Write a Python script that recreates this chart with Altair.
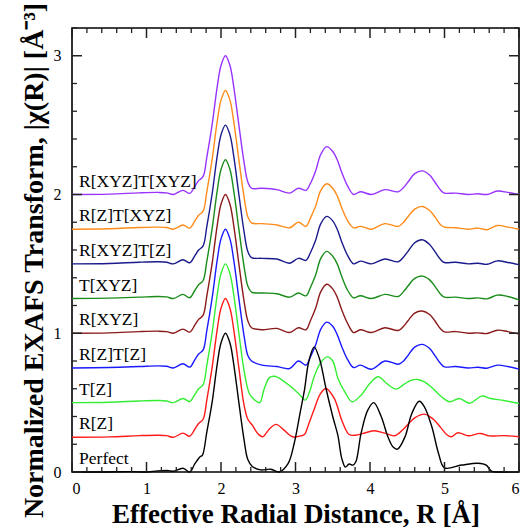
import altair as alt
import pandas as pd

# ---------------- data ----------------
series_names = ["R[XYZ]T[XYZ]", "R[Z]T[XYZ]", "R[XYZ]T[Z]", "T[XYZ]", "R[XYZ]",
                "R[Z]T[Z]", "T[Z]", "R[Z]", "Perfect"]
series_colors = ["#9933ff", "#ff8c1a", "#1a1a8c", "#1a8c1a", "#8b1a1a",
                 "#1a1aff", "#33ee33", "#ff1a1a", "#000000"]
label_baselines = [2.0, 1.75, 1.5, 1.25, 1.0, 0.75, 0.5, 0.25, 0.0]
label_r = 0.095

r_common = [0, 0.5, 0.9, 1.15, 1.27, 1.36, 1.49, 1.58, 1.65, 1.7, 1.76, 1.81, 1.88, 1.95, 2.0,
            2.06, 2.12, 2.17, 2.24, 2.31, 2.36, 2.41, 2.55, 2.75, 2.92, 3.04, 3.14, 3.2, 3.27,
            3.34, 3.42, 3.5, 3.56, 3.62, 3.7, 3.78, 3.87, 4.02, 4.2, 4.38, 4.45, 4.51, 4.6,
            4.7, 4.8, 4.87, 4.95, 5.0, 5.15, 5.32, 5.45, 5.57, 5.71, 5.85, 6.0]

chi_rxyz_txyz = [2.0, 2.003, 2.012, 2.015, 2.012, 2.0, 2.03, 2.008, 2.06, 2.1, 2.13, 2.27, 2.5,
                 2.78, 2.93, 3.0, 2.93, 2.78, 2.5, 2.23, 2.09, 2.045, 2.045, 2.035, 2.01, 2.045,
                 2.03, 2.08, 2.17, 2.29, 2.345, 2.31, 2.25, 2.16, 2.06, 2.0, 2.02, 2.0, 2.035,
                 2.02, 2.05, 2.09, 2.15, 2.17, 2.14, 2.09, 2.03, 2.01, 2.01, 2.0, 2.005, 2.0,
                 2.025, 2.015, 2.0]
chi_rz_txyz = [1.75, 1.753, 1.762, 1.765, 1.762, 1.75, 1.78, 1.758, 1.81, 1.85, 1.88, 2.02, 2.25,
               2.53, 2.68, 2.75, 2.68, 2.53, 2.25, 1.98, 1.84, 1.795, 1.79, 1.78, 1.76, 1.8, 1.77,
               1.83, 1.915, 2.03, 2.077, 2.045, 1.99, 1.905, 1.81, 1.76, 1.77, 1.75, 1.79, 1.77,
               1.8, 1.84, 1.895, 1.914, 1.885, 1.84, 1.78, 1.765, 1.76, 1.75, 1.758, 1.746,
               1.777, 1.765, 1.75]
chi_rxyz_tz = [1.5, 1.503, 1.512, 1.515, 1.512, 1.5, 1.53, 1.508, 1.56, 1.6, 1.63, 1.77, 2.0,
               2.28, 2.43, 2.5, 2.43, 2.28, 2.0, 1.73, 1.59, 1.545, 1.54, 1.535, 1.505, 1.54,
               1.525, 1.58, 1.67, 1.79, 1.842, 1.81, 1.75, 1.66, 1.56, 1.5, 1.52, 1.5, 1.535,
               1.515, 1.55, 1.59, 1.652, 1.674, 1.64, 1.59, 1.53, 1.51, 1.512, 1.5, 1.505,
               1.497, 1.522, 1.51, 1.495]
chi_txyz = [1.25, 1.253, 1.26, 1.265, 1.262, 1.25, 1.28, 1.256, 1.31, 1.35, 1.38, 1.52, 1.75,
            2.03, 2.18, 2.25, 2.18, 2.03, 1.75, 1.48, 1.34, 1.297, 1.29, 1.285, 1.26, 1.29, 1.27,
            1.33, 1.42, 1.54, 1.59, 1.555, 1.5, 1.41, 1.31, 1.255, 1.27, 1.25, 1.28, 1.265, 1.3,
            1.34, 1.395, 1.412, 1.385, 1.34, 1.28, 1.26, 1.26, 1.25, 1.255, 1.248, 1.275,
            1.265, 1.24]
chi_rxyz = [1.0, 1.003, 1.012, 1.015, 1.012, 1.0, 1.03, 1.008, 1.06, 1.1, 1.13, 1.27, 1.5, 1.78,
            1.93, 2.0, 1.93, 1.78, 1.5, 1.23, 1.09, 1.04, 1.025, 1.035, 1.005, 1.04, 1.025, 1.09,
            1.18, 1.3, 1.353, 1.32, 1.26, 1.17, 1.07, 1.005, 1.025, 1.005, 1.04, 1.02, 1.05,
            1.09, 1.145, 1.16, 1.135, 1.09, 1.03, 1.01, 1.012, 1.0, 1.003, 0.998, 1.022, 1.012,
            0.995]
chi_rz_tz = [0.75, 0.753, 0.76, 0.765, 0.762, 0.75, 0.78, 0.756, 0.81, 0.85, 0.88, 1.02, 1.25,
             1.53, 1.68, 1.75, 1.68, 1.53, 1.25, 0.98, 0.84, 0.8, 0.77, 0.76, 0.746, 0.8, 0.77,
             0.83, 0.915, 1.03, 1.08, 1.05, 0.99, 0.905, 0.81, 0.753, 0.77, 0.741, 0.8, 0.777,
             0.8, 0.84, 0.9, 0.92, 0.89, 0.84, 0.78, 0.758, 0.76, 0.75, 0.755, 0.748, 0.77,
             0.76, 0.741]

r_tz = [0, 0.5, 0.9, 1.15, 1.27, 1.36, 1.49, 1.58, 1.65, 1.7, 1.76, 1.81, 1.88, 1.95, 2.0, 2.06,
        2.12, 2.17, 2.24, 2.31, 2.38, 2.45, 2.52, 2.58, 2.65, 2.72, 2.8, 2.94, 3.04, 3.13, 3.19,
        3.25, 3.34, 3.43, 3.5, 3.57, 3.66, 3.76, 3.88, 4.0, 4.11, 4.22, 4.35, 4.45, 4.55, 4.64,
        4.73, 4.82, 4.96, 5.07, 5.2, 5.34, 5.5, 5.62, 5.77, 6.0]
chi_tz = [0.5, 0.503, 0.512, 0.515, 0.512, 0.5, 0.53, 0.508, 0.56, 0.6, 0.63, 0.77, 1.0, 1.28,
          1.43, 1.5, 1.43, 1.28, 1.0, 0.73, 0.566, 0.52, 0.5, 0.6, 0.68, 0.69, 0.67, 0.614,
          0.566, 0.518, 0.58, 0.686, 0.79, 0.83, 0.8, 0.674, 0.58, 0.506, 0.554, 0.64, 0.686,
          0.64, 0.597, 0.63, 0.66, 0.667, 0.65, 0.614, 0.542, 0.506, 0.53, 0.496, 0.547, 0.53,
          0.518, 0.494]

r_rz = [0, 0.5, 0.9, 1.15, 1.27, 1.36, 1.49, 1.58, 1.65, 1.7, 1.76, 1.81, 1.88, 1.95, 2.0, 2.06,
        2.12, 2.17, 2.24, 2.31, 2.36, 2.42, 2.49, 2.56, 2.65, 2.74, 2.85, 2.96, 3.07, 3.12, 3.18,
        3.25, 3.33, 3.41, 3.52, 3.63, 3.72, 3.8, 3.95, 4.06, 4.2, 4.33, 4.45, 4.6, 4.73, 4.85,
        4.95, 5.03, 5.09, 5.18, 5.32, 5.48, 5.6, 5.8, 6.0]
chi_rz = [0.25, 0.253, 0.262, 0.265, 0.262, 0.25, 0.28, 0.258, 0.31, 0.35, 0.38, 0.52, 0.75,
          1.03, 1.18, 1.25, 1.18, 1.03, 0.75, 0.48, 0.38, 0.338, 0.28, 0.254, 0.31, 0.343, 0.3,
          0.254, 0.26, 0.27, 0.35, 0.45, 0.56, 0.602, 0.53, 0.36, 0.27, 0.265, 0.285, 0.297,
          0.28, 0.261, 0.31, 0.39, 0.417, 0.38, 0.32, 0.27, 0.254, 0.283, 0.261, 0.278, 0.26,
          0.262, 0.254]

r_perfect = [0, 0.4, 0.8, 1.0, 1.15, 1.3, 1.36, 1.49, 1.58, 1.65, 1.72, 1.75, 1.81, 1.88, 1.95,
             2.0, 2.06, 2.12, 2.17, 2.24, 2.31, 2.36, 2.42, 2.53, 2.67, 2.78, 2.9, 2.98, 3.07,
             3.12, 3.18, 3.25, 3.32, 3.41, 3.5, 3.57, 3.62, 3.67, 3.72, 3.77, 3.81, 3.88, 3.97,
             4.05, 4.15, 4.24, 4.31, 4.37, 4.47, 4.56, 4.66, 4.73, 4.83, 4.92, 5.0, 5.23, 5.45,
             5.56, 5.63, 5.8, 6.0]
chi_perfect = [0.0, 0.0, 0.003, 0.0, 0.008, 0.01, 0.005, 0.027, 0.0, 0.06, 0.11, 0.12, 0.29, 0.5,
               0.78, 0.93, 1.0, 0.93, 0.78, 0.5, 0.23, 0.09, 0.04, 0.015, 0.02, 0.0, 0.06, 0.2,
               0.45, 0.59, 0.8, 0.9, 0.82, 0.6, 0.4, 0.26, 0.1, 0.035, 0.058, 0.05, 0.074, 0.278,
               0.446, 0.5, 0.4, 0.254, 0.18, 0.165, 0.254, 0.42, 0.51, 0.47, 0.326, 0.134, 0.03,
               0.05, 0.063, 0.05, 0.007, 0.0, 0.0]

x_major = [0, 1, 2, 3, 4, 5, 6]
x_minor = [0.2, 0.4, 0.6, 0.8, 1.2, 1.4, 1.6, 1.8, 2.2, 2.4, 2.6, 2.8, 3.2, 3.4, 3.6, 3.8,
           4.2, 4.4, 4.6, 4.8, 5.2, 5.4, 5.6, 5.8]
y_major = [0, 1, 2, 3]
y_minor = [0.2, 0.4, 0.6, 0.8, 1.2, 1.4, 1.6, 1.8, 2.2, 2.4, 2.6, 2.8, 3.2]

# ---------------- build tables ----------------
curves = [
    (series_names[0], r_common, chi_rxyz_txyz),
    (series_names[1], r_common, chi_rz_txyz),
    (series_names[2], r_common, chi_rxyz_tz),
    (series_names[3], r_common, chi_txyz),
    (series_names[4], r_common, chi_rxyz),
    (series_names[5], r_common, chi_rz_tz),
    (series_names[6], r_tz, chi_tz),
    (series_names[7], r_rz, chi_rz),
    (series_names[8], r_perfect, chi_perfect),
]
rows = []
for name, xs, ys in curves:
    for xv, yv in zip(xs, ys):
        rows.append({"series": name, "r": xv, "chi": yv})
df = pd.DataFrame(rows)

df_labels = pd.DataFrame({"name": series_names,
                          "lx": [label_r] * len(series_names),
                          "ly": label_baselines})

W, H = 447, 444
FONT = "Liberation Serif"
xs_scale = alt.Scale(domain=[0, 6], nice=False, zero=False)
ys_scale = alt.Scale(domain=[0, 3.2], nice=False, zero=False)

x_axis = alt.Axis(values=x_major, format="d", ticks=False, tickSize=0, domain=False,
                  grid=False, labelFont=FONT, labelFontSize=16, labelPadding=8,
                  labelColor="black",
                  title="Effective Radial Distance, R [Å]", titleFont=FONT,
                  titleFontSize=27, titleFontWeight="bold", titlePadding=5,
                  titleColor="black")
y_axis = alt.Axis(values=y_major, format="d", ticks=False, tickSize=0, domain=False,
                  grid=False, labelFont=FONT, labelFontSize=16, labelPadding=11,
                  labelColor="black",
                  title="Normalized EXAFS Transform, |χ(R)| [Å⁻³]", titleFont=FONT,
                  titleFontSize=28, titleFontWeight="bold", titlePadding=5,
                  titleY=232, titleColor="black")

lines = alt.Chart(df).mark_line(interpolate="catmull-rom", strokeWidth=1.4).encode(
    x=alt.X("r:Q", scale=xs_scale, axis=x_axis),
    y=alt.Y("chi:Q", scale=ys_scale, axis=y_axis),
    color=alt.Color("series:N", scale=alt.Scale(domain=series_names, range=series_colors),
                    legend=None),
    detail="series:N",
)

labels = alt.Chart(df_labels).mark_text(align="left", baseline="alphabetic", dy=-8,
                                        font=FONT, fontSize=17.5, color="black").encode(
    x=alt.X("lx:Q", scale=xs_scale, axis=x_axis),
    y=alt.Y("ly:Q", scale=ys_scale, axis=y_axis),
    text="name:N",
)

tick_col = "#222222"

def xticks(vals, length, width):
    d = pd.DataFrame({"v": vals})
    bottom = alt.Chart(d).mark_rule(color=tick_col, strokeWidth=width).encode(
        x=alt.X("v:Q", scale=xs_scale, axis=x_axis),
        y=alt.value(H), y2=alt.value(H - length))
    top = alt.Chart(d).mark_rule(color=tick_col, strokeWidth=width).encode(
        x=alt.X("v:Q", scale=xs_scale, axis=x_axis),
        y=alt.value(0), y2=alt.value(length))
    return [bottom, top]

def yticks(vals, length, width):
    d = pd.DataFrame({"v": vals})
    left = alt.Chart(d).mark_rule(color=tick_col, strokeWidth=width).encode(
        y=alt.Y("v:Q", scale=ys_scale, axis=y_axis),
        x=alt.value(0), x2=alt.value(length))
    right = alt.Chart(d).mark_rule(color=tick_col, strokeWidth=width).encode(
        y=alt.Y("v:Q", scale=ys_scale, axis=y_axis),
        x=alt.value(W), x2=alt.value(W - length))
    return [left, right]

tick_layers = (xticks(x_major, 10, 1.5) + xticks(x_minor, 5, 1.3)
               + yticks(y_major, 10, 1.5) + yticks(y_minor, 5, 1.3))

chart = alt.layer(lines, labels, *tick_layers).properties(
    width=W, height=H,
    autosize=alt.AutoSizeParams(type="none"),
    padding={"left": 72, "top": 28, "right": 2, "bottom": 55},
    background="white",
).configure_view(stroke="black", strokeWidth=1.6)

chart.save("out.html", embed_options={"renderer": "svg", "actions": False})
